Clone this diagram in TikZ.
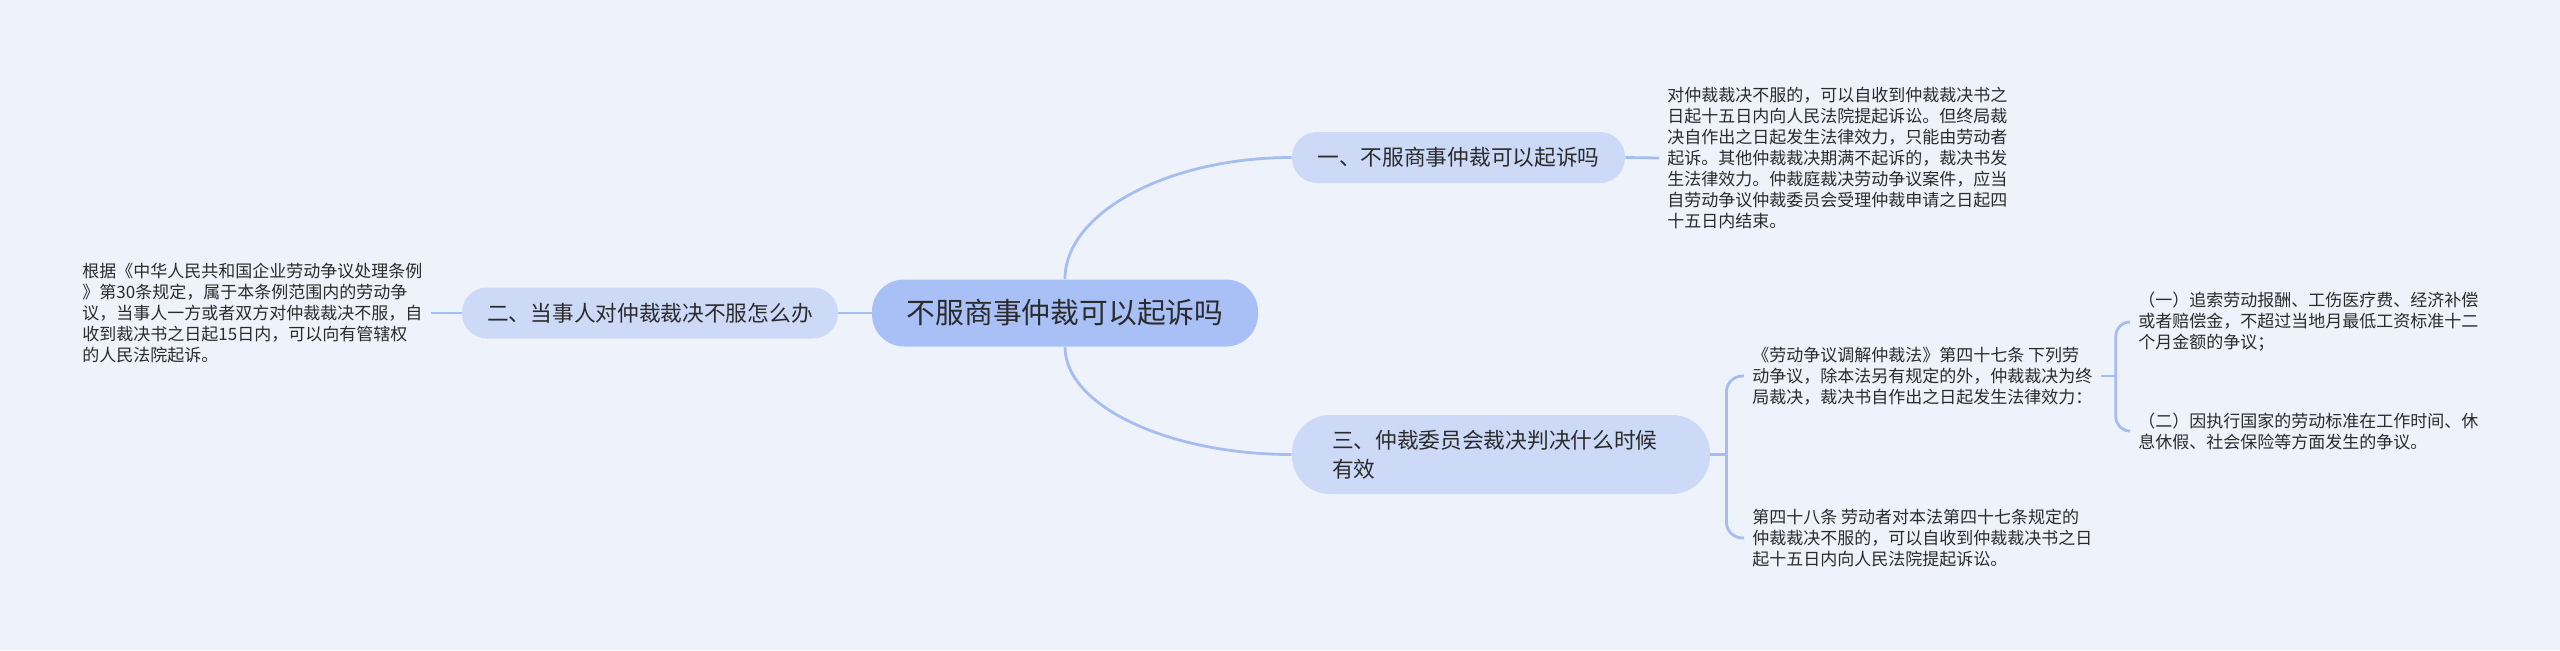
\documentclass[tikz,border=0pt]{standalone}
\usepackage{fontspec}
\newfontfamily\cjk{Noto Sans CJK SC}
\newcommand\rootfont{\cjk\fontsize{14.4pt}{18pt}\selectfont}
\newcommand\topicfont{\cjk\fontsize{10.85pt}{14.5pt}\selectfont}
\newcommand\leaffont{\cjk\fontsize{8.5pt}{10.5pt}\selectfont}
\definecolor{bgc}{HTML}{EEF3FB}
\definecolor{rootc}{HTML}{A9C0F7}
\definecolor{topc}{HTML}{CCDAF8}
\definecolor{linec}{HTML}{A6BDF0}
\definecolor{txt}{HTML}{2B2B2B}
\begin{document}
\begin{tikzpicture}[x=0.5pt,y=-0.5pt,
  conn/.style={draw=linec, line width=1.4pt},
  rootbox/.style={fill=rootc, rounded corners=16pt, minimum width=193pt, minimum height=33.5pt,
    font=\rootfont, text=txt, inner sep=0pt},
  topicbox/.style={fill=topc, rounded corners=12.5pt, minimum height=25.5pt,
    font=\topicfont, text=txt, inner sep=0pt, align=left},
  leaf/.style={font=\leaffont, text=txt, align=left,
    inner xsep=4pt, inner ysep=0pt, anchor=west}]
\fill[bgc] (0,0) rectangle (2560,650);
\useasboundingbox (0,0) rectangle (2560,650);

\node[rootbox] (root) at (1065,313) {不服商事仲裁可以起诉吗};
\node[topicbox, minimum width=166.5pt] (n1) at (1458.5,157.5) {一、不服商事仲裁可以起诉吗};
\node[topicbox, minimum width=188pt] (n2) at (650,313) {二、当事人对仲裁裁决不服怎么办};
\node[topicbox, minimum width=209pt, minimum height=39.5pt, text width=169pt, rounded corners=19pt] (n3) at (1501,454.5)
  {三、仲裁委员会裁决判决什么时候\\有效};

\node[leaf] (l1) at (1659,158) {对仲裁裁决不服的，可以自收到仲裁裁决书之\\日起十五日内向人民法院提起诉讼。但终局裁\\决自作出之日起发生法律效力，只能由劳动者\\起诉。其他仲裁裁决期满不起诉的，裁决书发\\生法律效力。仲裁庭裁决劳动争议案件，应当\\自劳动争议仲裁委员会受理仲裁申请之日起四\\十五日内结束。};
\node[leaf] (l2) at (74,313) {根据《中华人民共和国企业劳动争议处理条例\\》第30条规定，属于本条例范围内的劳动争\\议，当事人一方或者双方对仲裁裁决不服，自\\收到裁决书之日起15日内，可以向有管辖权\\的人民法院起诉。};
\node[leaf] (l3) at (1744,376) {《劳动争议调解仲裁法》第四十七条 下列劳\\动争议，除本法另有规定的外，仲裁裁决为终\\局裁决，裁决书自作出之日起发生法律效力：};
\node[leaf] (l4) at (1744,538) {第四十八条 劳动者对本法第四十七条规定的\\仲裁裁决不服的，可以自收到仲裁裁决书之日\\起十五日内向人民法院提起诉讼。};
\node[leaf] (l5) at (2130,322) {（一）追索劳动报酬、工伤医疗费、经济补偿\\或者赔偿金，不超过当地月最低工资标准十二\\个月金额的争议；};
\node[leaf] (l6) at (2130,431) {（二）因执行国家的劳动标准在工作时间、休\\息休假、社会保险等方面发生的争议。};

\draw[conn] (root.north) .. controls +(0,-67) and +(-123,0) .. (n1.west);
\draw[conn] (root.south) .. controls +(0,59) and +(-123,0) .. (n3.west);
\draw[conn] (root.west) -- (n2.east);
\draw[conn] (n1.east) -- (l1.west);
\draw[conn] (l2.east) -- (n2.west);

\path (n3.east) ++(16,0) coordinate (b3);
\draw[conn] (n3.east) -- (b3);
\draw[conn, rounded corners=8pt] (b3) |- (l3.west);
\draw[conn, rounded corners=8pt] (b3) |- (l4.west);

\path (l3.east) ++(15,0) coordinate (b2);
\draw[conn] (l3.east) -- (b2);
\draw[conn, rounded corners=7pt] (b2) |- (l5.west);
\draw[conn, rounded corners=7pt] (b2) |- (l6.west);
\end{tikzpicture}
\end{document}
